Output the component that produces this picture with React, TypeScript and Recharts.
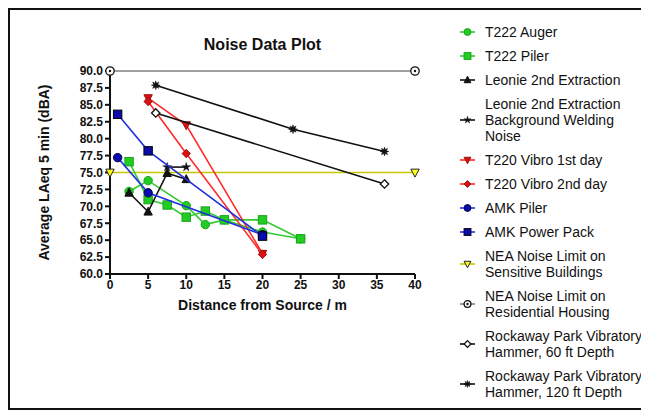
import * as React from "react";
import { ScatterChart, Scatter, XAxis, YAxis } from "recharts";

/* values (distance m, LAeq dBA) */
const t222Auger = [
  { x: 2.5, y: 72.2 }, { x: 5, y: 73.8 }, { x: 10, y: 70.1 }, { x: 12.5, y: 67.3 },
  { x: 15, y: 68.0 }, { x: 20, y: 66.2 }, { x: 25, y: 65.2 },
];
const t222Piler = [
  { x: 2.5, y: 76.6 }, { x: 5, y: 71.0 }, { x: 7.5, y: 70.2 }, { x: 10, y: 68.4 },
  { x: 12.5, y: 69.3 }, { x: 15, y: 68.0 }, { x: 20, y: 68.0 }, { x: 25, y: 65.2 },
];
const leonieExtraction = [
  { x: 2.5, y: 72.0 }, { x: 5, y: 69.2 }, { x: 7.5, y: 74.9 }, { x: 10, y: 74.0 },
];
const leonieWelding = [{ x: 7.5, y: 75.8 }, { x: 10, y: 75.8 }];
const vibroDay1 = [{ x: 5, y: 86.0 }, { x: 10, y: 82.0 }, { x: 20, y: 63.0 }];
const vibroDay2 = [{ x: 5, y: 85.5 }, { x: 10, y: 77.8 }, { x: 20, y: 62.9 }];
const amkPiler = [{ x: 1, y: 77.2 }, { x: 5, y: 72.0 }, { x: 20, y: 65.8 }];
const amkPowerPack = [{ x: 1, y: 83.6 }, { x: 5, y: 78.2 }, { x: 20, y: 65.6 }];
const neaSensitive = [{ x: 0, y: 75 }, { x: 40, y: 75 }];
const neaResidential = [{ x: 0, y: 90 }, { x: 40, y: 90 }];
const rockaway60 = [{ x: 6, y: 83.8 }, { x: 36, y: 73.3 }];
const rockaway120 = [{ x: 6, y: 87.9 }, { x: 24, y: 81.4 }, { x: 36, y: 78.1 }];

const xTicks = [0, 5, 10, 15, 20, 25, 30, 35, 40];
const yTicks = [60, 62.5, 65, 67.5, 70, 72.5, 75, 77.5, 80, 82.5, 85, 87.5, 90];

type Kind =
  | "circle" | "square" | "triUp" | "triDown" | "diamond"
  | "star" | "openCircleDot" | "openDiamond" | "asterisk";

interface SeriesDef {
  name: string[];
  data: { x: number; y: number }[];
  kind: Kind;
  line: string;
  fill: string;
  stroke: string;
}

const SERIES: SeriesDef[] = [
  { name: ["NEA Noise Limit on", "Sensitive Buildings"], data: neaSensitive, kind: "triDown", line: "#c8c800", fill: "#ffff20", stroke: "#222" },
  { name: ["NEA Noise Limit on", "Residential Housing"], data: neaResidential, kind: "openCircleDot", line: "#808080", fill: "#fff", stroke: "#111" },
  { name: ["T222 Auger"], data: t222Auger, kind: "circle", line: "#2ecc2e", fill: "#22cc22", stroke: "#1aa31a" },
  { name: ["T222 Piler"], data: t222Piler, kind: "square", line: "#2ecc2e", fill: "#22cc22", stroke: "#1aa31a" },
  { name: ["Leonie 2nd Extraction"], data: leonieExtraction, kind: "triUp", line: "#111", fill: "#111", stroke: "#111" },
  { name: ["Leonie 2nd Extraction", "Background Welding", "Noise"], data: leonieWelding, kind: "star", line: "#111", fill: "#111", stroke: "#111" },
  { name: ["T220 Vibro 1st day"], data: vibroDay1, kind: "triDown", line: "#ff2a2a", fill: "#dd1111", stroke: "#991111" },
  { name: ["T220 Vibro 2nd day"], data: vibroDay2, kind: "diamond", line: "#ff2a2a", fill: "#dd1111", stroke: "#991111" },
  { name: ["AMK Piler"], data: amkPiler, kind: "circle", line: "#2233dd", fill: "#0a0ab0", stroke: "#000044" },
  { name: ["AMK Power Pack"], data: amkPowerPack, kind: "square", line: "#2233dd", fill: "#0a0ab0", stroke: "#000" },
  { name: ["Rockaway Park Vibratory", "Hammer, 60 ft Depth"], data: rockaway60, kind: "openDiamond", line: "#111", fill: "#fff", stroke: "#111" },
  { name: ["Rockaway Park Vibratory", "Hammer, 120 ft Depth"], data: rockaway120, kind: "asterisk", line: "#111", fill: "#111", stroke: "#111" },
];

// legend follows the original legend order, not the drawing order
const LEGEND_ORDER = [2, 3, 4, 5, 6, 7, 8, 9, 0, 1, 10, 11];

function starPoints(cx: number, cy: number, n: number, ro: number, ri: number) {
  const pts: string[] = [];
  for (let i = 0; i < n * 2; i++) {
    const r = i % 2 === 0 ? ro : ri;
    const a = (Math.PI * i) / n - Math.PI / 2;
    pts.push(`${cx + r * Math.cos(a)},${cy + r * Math.sin(a)}`);
  }
  return pts.join(" ");
}

function Marker({ kind, cx, cy, s, fill, stroke }: {
  kind: Kind; cx: number; cy: number; s: number; fill: string; stroke: string;
}) {
  const sw = 1;
  switch (kind) {
    case "circle":
      return <circle cx={cx} cy={cy} r={s} fill={fill} stroke={stroke} strokeWidth={sw} />;
    case "square":
      return <rect x={cx - s} y={cy - s} width={2 * s} height={2 * s} fill={fill} stroke={stroke} strokeWidth={sw} />;
    case "triUp":
      return <polygon points={`${cx},${cy - s * 1.1} ${cx + s},${cy + s * 0.8} ${cx - s},${cy + s * 0.8}`} fill={fill} stroke={stroke} strokeWidth={sw} />;
    case "triDown":
      return <polygon points={`${cx - s},${cy - s * 0.8} ${cx + s},${cy - s * 0.8} ${cx},${cy + s * 1.1}`} fill={fill} stroke={stroke} strokeWidth={sw} />;
    case "diamond":
      return <polygon points={`${cx},${cy - s} ${cx + s},${cy} ${cx},${cy + s} ${cx - s},${cy}`} fill={fill} stroke={stroke} strokeWidth={sw} />;
    case "openDiamond":
      return <polygon points={`${cx},${cy - s} ${cx + s},${cy} ${cx},${cy + s} ${cx - s},${cy}`} fill="#fff" stroke={stroke} strokeWidth={1.3} />;
    case "openCircleDot":
      return (
        <g>
          <circle cx={cx} cy={cy} r={s} fill="#fff" stroke={stroke} strokeWidth={1.3} />
          <circle cx={cx} cy={cy} r={1.2} fill={stroke} />
        </g>
      );
    case "star":
      return <polygon points={starPoints(cx, cy, 5, s * 1.1, s * 0.4)} fill={fill} stroke={stroke} strokeWidth={0.5} />;
    case "asterisk":
      return <polygon points={starPoints(cx, cy, 8, s * 1.05, s * 0.5)} fill={fill} stroke={stroke} strokeWidth={0.5} />;
  }
  return null;
}

const FONT = "'Liberation Sans', Arial, Helvetica, sans-serif";
const tickStyle = { fontSize: 12, fontWeight: 700, fill: "#111", fontFamily: FONT };
const labelStyle = { fontSize: 14, fontWeight: 700, fill: "#111", fontFamily: FONT };

export default function App() {
  return (
    <div
      style={{
        position: "relative",
        boxSizing: "border-box",
        width: 641,
        height: 402,
        borderTop: "2px solid #111",
        borderLeft: "2px solid #111",
        borderBottom: "2px solid #111",
        fontFamily: FONT,
        overflow: "hidden",
      }}
    >
      <div
        style={{
          position: "absolute",
          left: 100,
          width: 305,
          top: 26,
          textAlign: "center",
          fontSize: 16,
          fontWeight: 700,
          color: "#111",
        }}
      >
        Noise Data Plot
      </div>

      <div style={{ position: "absolute", left: 0, top: 0 }}>
        <ScatterChart width={420} height={320} margin={{ top: 61, right: 15, bottom: 11, left: 30 }}>
          <XAxis
            type="number"
            dataKey="x"
            domain={[0, 40]}
            ticks={xTicks}
            interval={0}
            height={45}
            tickSize={5}
            tickMargin={1}
            stroke="#111"
            strokeWidth={2}
            tick={tickStyle}
            label={{ value: "Distance from Source / m", position: "insideBottom", offset: 9, style: labelStyle }}
          />
          <YAxis
            type="number"
            dataKey="y"
            domain={[60, 90]}
            ticks={yTicks}
            interval={0}
            width={70}
            tickSize={5}
            tickMargin={2}
            stroke="#111"
            strokeWidth={2}
            tick={tickStyle}
            tickFormatter={(v: number) => v.toFixed(1)}
            label={{
              value: "Average LAeq 5 min (dBA)",
              angle: -90,
              position: "insideLeft",
              offset: 4,
              style: { ...labelStyle, textAnchor: "middle" },
            }}
          />
          {SERIES.map((s) => (
            <Scatter
              key={s.name.join(" ")}
              name={s.name.join(" ")}
              data={s.data}
              fill={s.fill}
              line={{ stroke: s.line, strokeWidth: 1.6 }}
              lineType="joint"
              isAnimationActive={false}
              shape={(p: any) => (
                <Marker kind={s.kind} cx={p.cx} cy={p.cy} s={4.2} fill={s.fill} stroke={s.stroke} />
              )}
            />
          ))}
        </ScatterChart>
      </div>

      {/* legend */}
      <div
        style={{
          position: "absolute",
          left: 447,
          top: 14,
          display: "flex",
          flexDirection: "column",
          gap: 8,
          fontSize: 14,
          lineHeight: "16px",
          color: "#111",
          whiteSpace: "nowrap",
        }}
      >
        {LEGEND_ORDER.map((i) => {
          const s = SERIES[i];
          return (
            <div key={i} style={{ display: "flex", alignItems: "center" }}>
              <svg width={22} height={12} style={{ marginRight: 6, flex: "none" }}>
                <line x1={3} y1={6} x2={18} y2={6} stroke={s.line} strokeWidth={1.6} />
                <Marker kind={s.kind} cx={10.5} cy={6} s={3.4} fill={s.fill} stroke={s.stroke} />
              </svg>
              <div>
                {s.name.map((t) => (
                  <div key={t}>{t}</div>
                ))}
              </div>
            </div>
          );
        })}
      </div>
    </div>
  );
}
